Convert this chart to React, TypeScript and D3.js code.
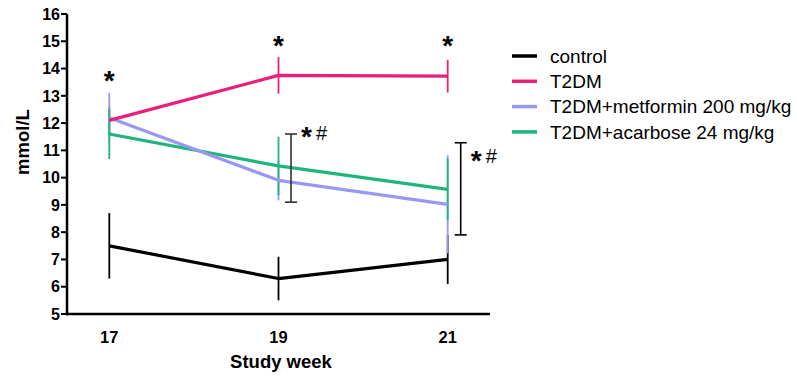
import React from "react";
import * as d3 from "d3";

const weeks = [17, 19, 21];
const seriesNames = ["control", "T2DM", "T2DM+metformin 200 mg/kg", "T2DM+acarbose 24 mg/kg"];
const seriesColors = ["#000000", "#E8207A", "#9898F0", "#1DB57C"];
const controlMean = [7.5, 6.3, 7.0];
const controlErr = [1.2, 0.8, 0.9];
const t2dmMean = [12.1, 13.75, 13.72];
const t2dmErr = [0.5, 0.67, 0.6];
const metforminMean = [12.2, 9.9, 9.02];
const metforminErr = [0.9, 0.73, 1.8];
const acarboseMean = [11.6, 10.43, 9.57];
const acarboseErr = [0.92, 1.07, 1.13];
const yTicks = [5, 6, 7, 8, 9, 10, 11, 12, 13, 14, 15, 16];
// asterisks above the T2DM group
const starWeeks = [17, 19, 21];
const starValues = [13.67, 14.97, 14.94];
// significance brackets (treated groups vs T2DM)
const bracketWeeks = [19, 21];
const bracketLow = [9.1, 7.9];
const bracketHigh = [11.6, 11.28];

const means = [controlMean, t2dmMean, metforminMean, acarboseMean];
const errs = [controlErr, t2dmErr, metforminErr, acarboseErr];

export default function App() {
  const width = 797;
  const height = 376;
  const x = d3.scaleLinear().domain([16.5, 21.5]).range([67, 490]);
  const y = d3.scaleLinear().domain([5, 16]).range([314, 14]);
  const line = d3
    .line<number>()
    .x((_, i) => x(weeks[i]))
    .y((d) => y(d));

  // error bars: control, T2DM, metformin, acarbose (acarbose on top)
  const barOrder = [0, 1, 2, 3];
  const lineOrder = [3, 2, 1, 0];

  return (
    <svg
      width={width}
      height={height}
      style={{ position: "absolute", left: 0, top: 0, fontFamily: "Liberation Sans, Arial, sans-serif" }}
    >
      {barOrder.map((s) =>
        weeks.map((w, i) => (
          <line
            key={`e${s}-${i}`}
            x1={x(w)}
            x2={x(w)}
            y1={y(means[s][i] - errs[s][i])}
            y2={y(means[s][i] + errs[s][i])}
            stroke={seriesColors[s]}
            strokeWidth={1.8}
          />
        ))
      )}
      {lineOrder.map((s) => (
        <path
          key={`l${s}`}
          d={line(means[s]) ?? ""}
          fill="none"
          stroke={seriesColors[s]}
          strokeWidth={3.2}
          strokeLinejoin="round"
        />
      ))}

      {/* axes */}
      <line x1={67} x2={67} y1={y(16)} y2={y(5) + 1.2} stroke="#000" strokeWidth={2.5} />
      <line x1={66} x2={490} y1={y(5)} y2={y(5)} stroke="#000" strokeWidth={2.5} />
      {yTicks.map((t) => (
        <g key={t}>
          <line x1={61} x2={67} y1={y(t)} y2={y(t)} stroke="#000" strokeWidth={2} />
          <text x={60} y={y(t)} dy="0.36em" textAnchor="end" fontSize={16} fontWeight="bold">
            {t}
          </text>
        </g>
      ))}
      {weeks.map((w) => (
        <text key={w} x={x(w)} y={343} textAnchor="middle" fontSize={16.5} fontWeight="bold">
          {w}
        </text>
      ))}
      <text x={281} y={368} textAnchor="middle" fontSize={18.5} fontWeight="bold">
        Study week
      </text>
      <text transform={`translate(29,142) rotate(-90)`} textAnchor="middle" fontSize={18.5} fontWeight="bold">
        mmol/L
      </text>

      {/* asterisks */}
      {starWeeks.map((w, i) => (
        <text key={`s${w}`} x={x(w)} y={y(starValues[i]) + 12.5} textAnchor="middle" fontSize={28} fontWeight="bold">
          *
        </text>
      ))}

      {/* brackets */}
      {bracketWeeks.map((w, i) => {
        const bx = x(w) + (i === 0 ? 12.5 : 13);
        const top = y(bracketHigh[i]);
        const base = i === 0 ? top + 5.5 : top + 20.5;
        return (
          <g key={`b${w}`}>
            <g stroke={i === 0 ? "#333" : "#000"} strokeWidth={1.6}>
              <line x1={bx} x2={bx} y1={top} y2={y(bracketLow[i])} />
              <line x1={bx - 6} x2={bx + 6} y1={top} y2={top} />
              <line x1={bx - 6} x2={bx + 6} y1={y(bracketLow[i])} y2={y(bracketLow[i])} />
            </g>
            <text x={bx + 10} y={base + 6.5} fontSize={28} fontWeight="bold">
              *
            </text>
            <text x={bx + 25} y={base} fontSize={20}>
              #
            </text>
          </g>
        );
      })}

      {/* legend */}
      {seriesNames.map((n, i) => (
        <g key={n} transform={`translate(512,${56 + i * 25.3})`}>
          <line x1={0} x2={25} y1={0} y2={0} stroke={seriesColors[i]} strokeWidth={3.5} />
          <text x={38} y={0} dy="0.36em" fontSize={19}>
            {n}
          </text>
        </g>
      ))}
    </svg>
  );
}
